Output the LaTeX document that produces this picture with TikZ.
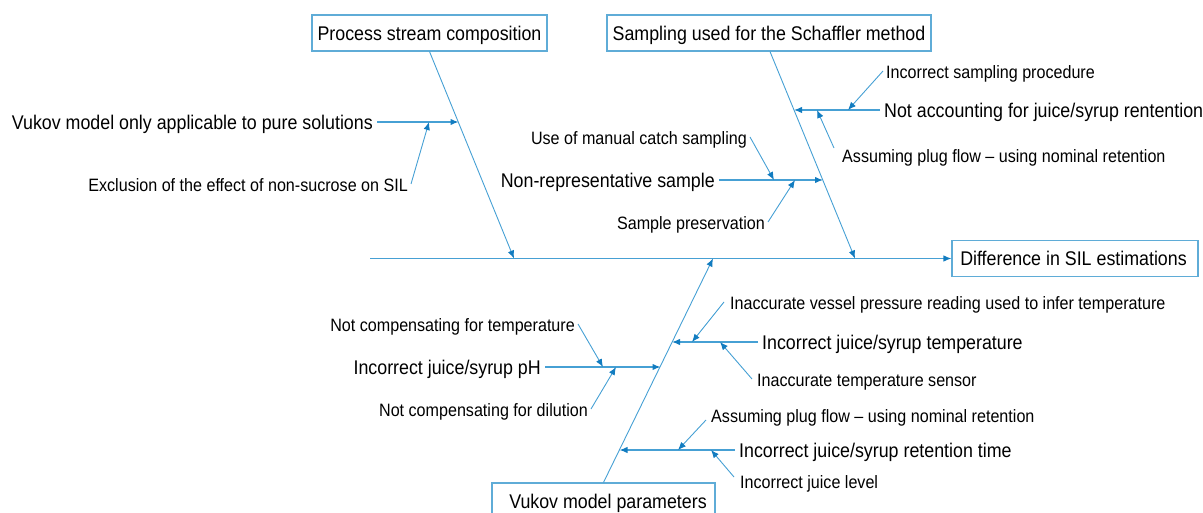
\documentclass[tikz,border=0pt]{standalone}
\usepackage{fontspec}
\setmainfont{Liberation Sans}[FakeStretch=0.9]
\usetikzlibrary{arrows.meta}
\definecolor{lineblue}{RGB}{70,160,212}
\definecolor{tipblue}{RGB}{18,124,192}
\definecolor{boxblue}{RGB}{95,172,215}
\begin{document}
\begin{tikzpicture}[x=1pt,y=-1pt,
  bigtxt/.style={font=\fontsize{19.8}{22}\selectfont, inner xsep=4pt, inner ysep=2pt, text height=17pt, text depth=2pt},
  smalltxt/.style={font=\fontsize{17.9}{20}\selectfont, inner xsep=3pt, inner ysep=2pt, text height=16.5pt, text depth=2pt},
  causebox/.style={draw=boxblue, line width=1.1pt, fill=white, font=\fontsize{19.8}{22}\selectfont, minimum height=36pt, inner sep=0pt, text height=17pt, text depth=2pt},
  bone/.style={draw=lineblue, line width=0.9pt, -{Latex[length=8pt,width=6.5pt,color=tipblue]}},
  subbone/.style={bone, line width=1.3pt},
  twig/.style={bone, line width=0.9pt}]
\useasboundingbox (0,0) rectangle (1203,513);
\clip (0,0) rectangle (1203,513);

% effect and main spine
\node[causebox, minimum width=246pt] (effect) at (1075,258.5) {Difference in SIL estimations\hspace*{3pt}};
\coordinate (spineL) at (370,258.5);
\draw[bone, line width=1.1pt] (spineL) -- (effect.west);

% category boxes
\node[causebox, minimum width=235pt] (cat1) at (429.5,33) {Process stream composition};
\node[causebox, minimum width=324pt] (cat2) at (769,33) {Sampling used for the Schaffler method};
\node[causebox, minimum width=223pt] (cat3) at (603.5,501) {\hspace*{9pt}Vukov model parameters};

% bone end points on spine
\coordinate (s1) at (514,258.5);
\coordinate (s2) at (855,258.5);
\coordinate (s3) at (713,258.5);
\draw[bone] (cat1.south) -- (s1);
\draw[bone] ([xshift=1pt]cat2.south) -- (s2);
\draw[bone] (cat3.north) -- (s3);

% points on bones
\coordinate (b1a) at (458.5,122);
\coordinate (b2a) at (794,110);
\coordinate (b2b) at (823,180);
\coordinate (b3a) at (660.5,367);
\coordinate (b3b) at (672,342);
\coordinate (b3c) at (619.5,450);

% sub causes
\node[bigtxt, anchor=east] (c1) at (377,122) {Vukov model only applicable to pure solutions};
\node[bigtxt, anchor=west] (c2) at (880,110) {Not accounting for juice/syrup rentention};
\node[bigtxt, anchor=east] (c3) at (719,180) {Non-representative sample};
\node[bigtxt, anchor=east] (c4) at (545,367) {Incorrect juice/syrup pH};
\node[bigtxt, anchor=west] (c5) at (758,342) {Incorrect juice/syrup temperature};
\node[bigtxt, anchor=west] (c6) at (735,450) {Incorrect juice/syrup retention time};
\draw[subbone] (c1.east) -- (b1a);
\draw[subbone] (c2.west) -- (b2a);
\draw[subbone] (c3.east) -- (b2b);
\draw[subbone] (c4.east) -- (b3a);
\draw[subbone] (c5.west) -- (b3b);
\draw[subbone] (c6.west) -- (b3c);

% points on sub-cause lines
\coordinate (t1) at (429,122);
\coordinate (t2) at (848,110);
\coordinate (t3) at (817,110);
\coordinate (t4) at (774,180);
\coordinate (t5) at (795,180);
\coordinate (t6) at (603,367);
\coordinate (t7) at (616,367);
\coordinate (t8) at (692,342);
\coordinate (t9) at (720,342);
\coordinate (t10) at (678,450);
\coordinate (t11) at (711,450);

% sub-sub causes
\node[smalltxt, anchor=east] (d1) at (411,184) {Exclusion of the effect of non-sucrose on SIL};
\node[smalltxt, anchor=west] (d2) at (883,71) {Incorrect sampling procedure};
\node[smalltxt, anchor=west] (d3) at (839,155) {Assuming plug flow – using nominal retention};
\node[smalltxt, anchor=east] (d4) at (750,137) {Use of manual catch sampling};
\node[smalltxt, anchor=east] (d5) at (768,222) {Sample preservation};
\node[smalltxt, anchor=east] (d6) at (578,324) {Not compensating for temperature};
\node[smalltxt, anchor=east] (d7) at (591,409) {Not compensating for dilution};
\node[smalltxt, anchor=west] (d8) at (727,302) {Inaccurate vessel pressure reading used to infer temperature};
\node[smalltxt, anchor=west] (d9) at (754,379) {Inaccurate temperature sensor};
\node[smalltxt, anchor=west] (d10) at (708,415) {Assuming plug flow – using nominal retention};
\node[smalltxt, anchor=west] (d11) at (737,481) {Incorrect juice level};

\draw[twig] (d1.east) -- (t1);
\draw[twig] (d2.west) -- (t2);
\draw[twig] ([shift={(-5pt,7pt)}]d3.west) -- (t3);
\draw[twig] (d4.east) -- (t4);
\draw[twig] (d5.east) -- (t5);
\draw[twig] (d6.east) -- (t6);
\draw[twig] (d7.east) -- (t7);
\draw[twig] ([xshift=-3pt]d8.west) -- (t8);
\draw[twig] ([xshift=-2pt]d9.west) -- (t9);
\draw[twig] ([shift={(-2pt,-5pt)}]d10.west) -- (t10);
\draw[twig] ([shift={(-3pt,4pt)}]d11.west) -- (t11);
\end{tikzpicture}
\end{document}
